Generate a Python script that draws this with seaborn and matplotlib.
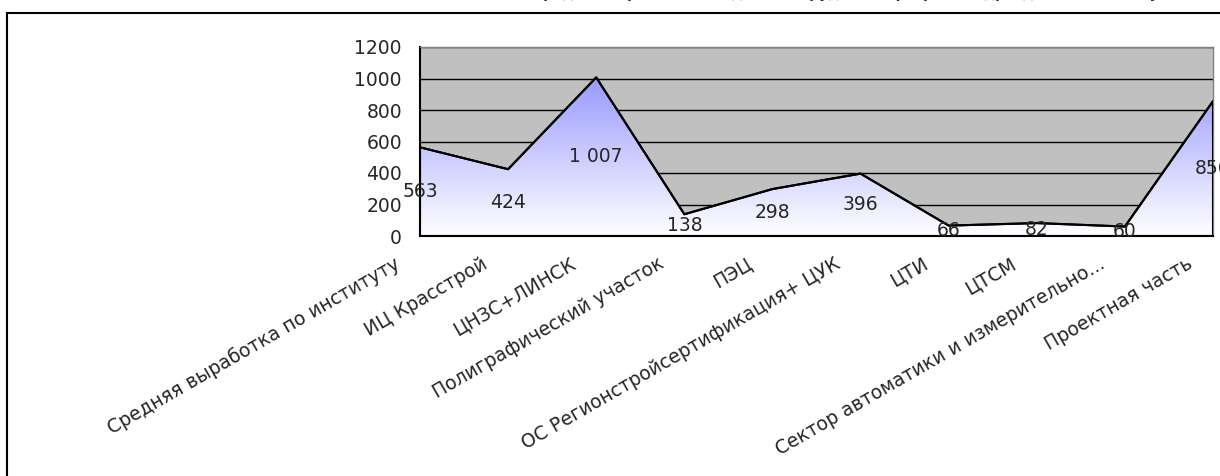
import numpy as np
import pandas as pd
import seaborn as sns
import matplotlib.pyplot as plt
import matplotlib.transforms as mtransforms
from matplotlib.colors import LinearSegmentedColormap
from matplotlib.patches import Rectangle

# данные
categories = ["Средняя выработка по институту", "ИЦ Красстрой", "ЦНЗС+ЛИНСК",
              "Полиграфический участок", "ПЭЦ", "ОС Регионстройсертификация+ ЦУК",
              "ЦТИ", "ЦТСМ", "Сектор автоматики и измерительно...", "Проектная часть"]
values = [563, 424, 1007, 138, 298, 396, 66, 82, 60, 856]
yticks = [0, 200, 400, 600, 800, 1000, 1200]
title = "Средняя выработка на одного сотрудника в разрезе подразделений института"

sns.set_style("white")
plt.rcParams['font.family'] = ['DejaVu Sans']

df = pd.DataFrame({"cat": categories, "val": values, "pos": np.arange(len(values))})

fig = plt.figure(figsize=(12.2, 4.76), dpi=100)
ax = fig.add_axes([420/1220, 1 - 236/476, 793/1220, 189/476])
ax.set_facecolor("#C0C0C0")

# область с градиентом
poly = ax.fill_between(df["pos"], df["val"], 0, facecolor="none", edgecolor="black", lw=1.5, zorder=3)
cmap = LinearSegmentedColormap.from_list("grad", ["#FFFFFF", "#9999FF"])
grad = np.linspace(0, 1, 256).reshape(-1, 1)
im = ax.imshow(grad, cmap=cmap, origin="lower", aspect="auto", zorder=2,
               extent=[df["pos"].min(), df["pos"].max(), 0, df["val"].max()])
im.set_clip_path(poly.get_paths()[0], transform=ax.transData)
sns.lineplot(data=df, x="pos", y="val", color="black", lw=1.5, ax=ax, zorder=4)

# подписи значений
for p, v in zip(df["pos"], df["val"]):
    ax.text(p, v / 2, f"{v:,}".replace(",", " "), ha="center", va="center",
            fontsize=13.5, clip_on=False, zorder=5)

ax.set_xlim(df["pos"].min(), df["pos"].max())
ax.set_ylim(0, 1200)
ax.set_yticks(yticks)
ax.yaxis.grid(True, color="black", lw=1)
ax.set_axisbelow(True)
ax.set_xlabel("")
ax.set_ylabel("")

ax.set_xticks(df["pos"])
ax.set_xticklabels(categories, rotation=30, ha="right", va="center", rotation_mode="anchor")
ax.tick_params(axis="both", direction="out", length=6, width=1, color="black", labelsize=13.5)
ax.tick_params(axis="y", pad=7)
ax.tick_params(axis="x", pad=13)
shift = mtransforms.ScaledTranslation(-22/100, 0, fig.dpi_scale_trans)
for lab in ax.get_xticklabels():
    lab.set_transform(lab.get_transform() + shift)

for s in ["left", "bottom"]:
    ax.spines[s].set_color("black")
    ax.spines[s].set_linewidth(1.5)
for s in ["top", "right"]:
    ax.spines[s].set_color("#808080")
    ax.spines[s].set_linewidth(1)

# заголовок, почти весь за краем
fig.text(855/1220, 1 + 2/476, title, ha="center", va="baseline", fontsize=10, fontweight="bold")

# рамка диаграммы
fig.patches.append(Rectangle((7/1220, -0.2), 1.5, 1.2 - 13/476, transform=fig.transFigure,
                             fill=False, edgecolor="black", lw=1.5))

fig.savefig("out.png", dpi=100)
